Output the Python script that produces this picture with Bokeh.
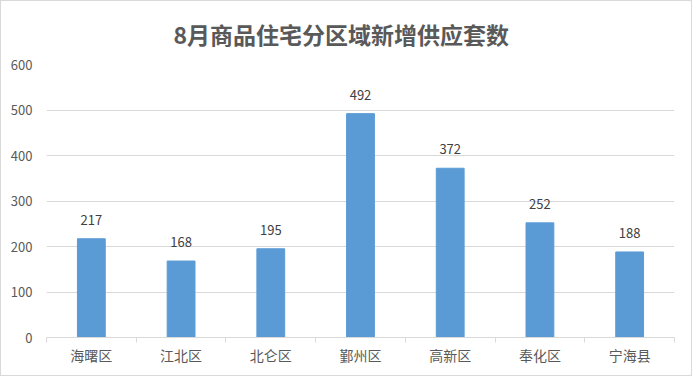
from bokeh.plotting import figure
from bokeh.models import ColumnDataSource, FixedTicker, LabelSet, Range1d
from bokeh.core.properties import value
from bokeh.embed import file_html
from bokeh.resources import INLINE

title = "8月商品住宅分区域新增供应套数"
categories = ["海曙区", "江北区", "北仑区", "鄞州区", "高新区", "奉化区", "宁海县"]
values = [217, 168, 195, 492, 372, 252, 188]
y_ticks = [0, 100, 200, 300, 400, 500, 600]

xs = list(range(1, len(categories) + 1))
src = ColumnDataSource(dict(x=xs, top=values, label=[str(v) for v in values]))

p = figure(width=692, height=376, output_backend="svg", toolbar_location=None,
           x_range=Range1d(0.5, len(categories) + 0.5), y_range=Range1d(0, 600),
           min_border_left=45, min_border_right=19, min_border_top=0, min_border_bottom=40)
p.styles = {"border": "1px solid #D9D9D9"}

p.title.text = title
p.title.align = "left"
p.title.offset = 127
p.title.text_font = "Noto Sans CJK SC"
p.title.text_font_size = "23px"
p.title.text_font_style = "bold"
p.title.text_color = "#595959"
p.title.standoff = 27

p.vbar(x="x", top="top", width=0.31, source=src, color="#5B9BD5")
p.add_layout(LabelSet(x="x", y="top", text="label", source=src, y_offset=14,
                      text_align="center", text_baseline="bottom",
                      text_font_size=value("13px"), text_color=value("#404040"),
                      text_font=value("Noto Sans CJK SC")))

p.outline_line_color = None
p.xgrid.grid_line_color = None
p.ygrid.grid_line_color = "#D9D9D9"
p.ygrid.ticker = FixedTicker(ticks=y_ticks)

xa = p.xaxis[0]
xa.ticker = FixedTicker(ticks=xs, minor_ticks=[i + 0.5 for i in range(0, len(categories) + 1)])
xa.major_label_overrides = {i: c for i, c in zip(xs, categories)}
xa.major_tick_out = 0
xa.major_tick_in = 0
xa.minor_tick_out = 5
xa.minor_tick_in = 0
xa.minor_tick_line_color = "#D9D9D9"
xa.axis_line_color = "#D9D9D9"
xa.major_label_text_font = "Noto Sans CJK SC"
xa.major_label_text_font_size = "14px"
xa.major_label_text_color = "#595959"
xa.major_label_standoff = 2

ya = p.yaxis[0]
ya.ticker = FixedTicker(ticks=y_ticks)
ya.axis_line_color = None
ya.major_tick_line_color = None
ya.minor_tick_line_color = None
ya.major_label_text_font = "Noto Sans CJK SC"
ya.major_label_text_font_size = "13px"
ya.major_label_text_color = "#595959"
ya.major_label_standoff = 8

open("out.html", "w").write(file_html(p, INLINE))
